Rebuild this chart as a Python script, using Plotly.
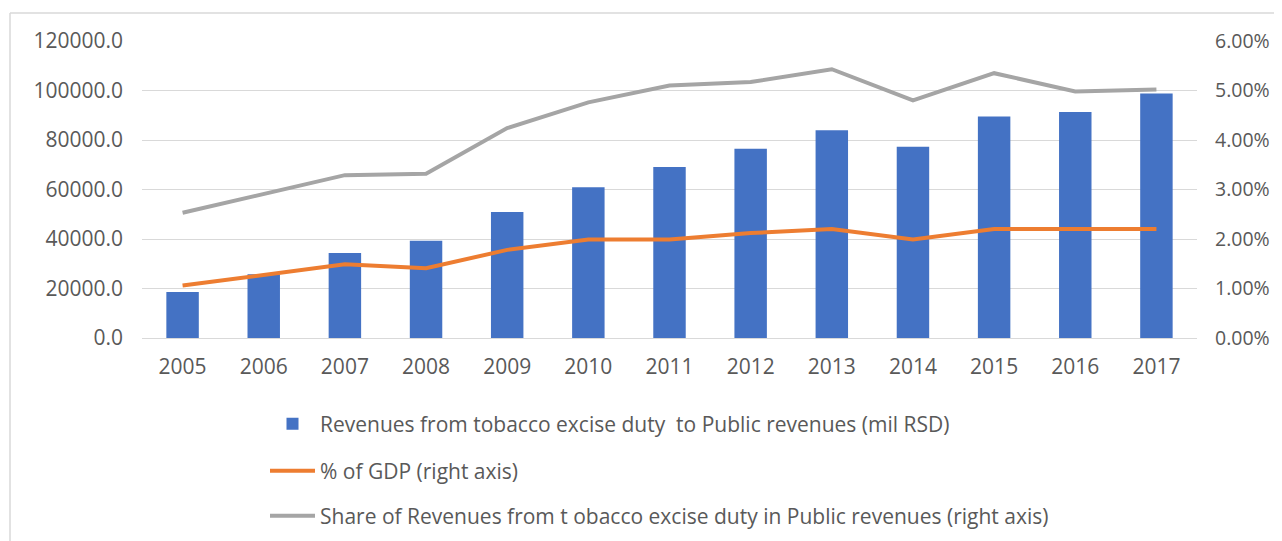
import plotly.graph_objects as go

years = ["2005", "2006", "2007", "2008", "2009", "2010", "2011", "2012", "2013", "2014", "2015", "2016", "2017"]
revenues = [18600, 25800, 34300, 39300, 50900, 60900, 69100, 76500, 83900, 77300, 89500, 91300, 98800]
pct_gdp = [0.0106, 0.0128, 0.0149, 0.0141, 0.0178, 0.0199, 0.0199, 0.0212, 0.0220, 0.0199, 0.0220, 0.0220, 0.0220]
share_public = [0.0253, 0.0292, 0.0329, 0.0332, 0.0424, 0.0476, 0.0510, 0.0517, 0.0543, 0.0480, 0.0535, 0.0498, 0.0502]

names = [
    "Revenues from tobacco excise duty  to Public revenues (mil RSD)",
    "% of GDP (right axis)",
    "Share of Revenues from t obacco excise duty in Public revenues (right axis)",
]

FONT = "Open Sans"
TXT = "#595959"
GRID = "#D9D9D9"

# page body has an 8px margin; work in screen pixels and convert
OFF = 8
W, H = 1282 - 2 * OFF, 541 - OFF
PL, PR, PT, PB = 142, 1197, 41, 338  # plot area in screen pixels
L, T = PL - OFF, PT - OFF
R = W - (PR - OFF)
B = H - (PB - OFF)
pw, ph = PR - PL, PB - PT

def px_x(x):
    return (x - PL) / pw

def px_y(y):
    return (PB - y) / ph

fig = go.Figure()
fig.add_trace(go.Bar(
    x=years, y=revenues, name=names[0], marker=dict(color="#4472C4", line=dict(width=0)),
    legend="legend", yaxis="y",
))
fig.add_trace(go.Scatter(
    x=years, y=pct_gdp, name=names[1], mode="lines", line=dict(color="#ED7D31", width=4),
    legend="legend2", yaxis="y2",
))
fig.add_trace(go.Scatter(
    x=years, y=share_public, name=names[2], mode="lines", line=dict(color="#A5A5A5", width=4),
    legend="legend3", yaxis="y2",
))

FS = 21
leg_common = dict(xanchor="left", yanchor="middle", font=dict(family=FONT, size=FS, color=TXT),
                  bgcolor="rgba(0,0,0,0)", itemwidth=45)
lx = px_x(265)

fig.update_layout(
    width=W, height=H,
    margin=dict(l=L, r=R, t=T, b=B, pad=0, autoexpand=False),
    paper_bgcolor="white", plot_bgcolor="white",
    font=dict(family=FONT, size=FS, color=TXT),
    bargap=0.6,
    showlegend=True,
    legend=dict(x=lx, y=px_y(424), **leg_common),
    legend2=dict(x=lx, y=px_y(471), **leg_common),
    legend3=dict(x=lx, y=px_y(516), **leg_common),
    xaxis=dict(type="category", range=[-0.5, 12.5], showgrid=False, showline=False,
               ticks="", ticklabelstandoff=14, tickfont=dict(size=FS, color=TXT)),
    yaxis=dict(range=[0, 120000], dtick=20000, tickformat=".1f", showgrid=True, gridcolor=GRID,
               gridwidth=1, zeroline=True, zerolinecolor=GRID, zerolinewidth=1, showline=False,
               ticks="", ticklabelstandoff=18, tickfont=dict(size=FS, color=TXT)),
    yaxis2=dict(range=[0, 0.06], dtick=0.01, tickformat=".2%", overlaying="y", side="right",
                showgrid=False, zeroline=False, showline=False, ticks="", ticklabelstandoff=17,
                tickfont=dict(size=19.5, color=TXT)),
    shapes=[
        dict(type="line", xref="paper", yref="paper", x0=px_x(10), x1=px_x(1300), y0=px_y(13), y1=px_y(13),
             line=dict(color=GRID, width=1.5)),
        dict(type="line", xref="paper", yref="paper", x0=px_x(10), x1=px_x(10), y0=px_y(13), y1=px_y(560),
             line=dict(color=GRID, width=1.5)),
    ],
)

fig.write_html("out.html")
